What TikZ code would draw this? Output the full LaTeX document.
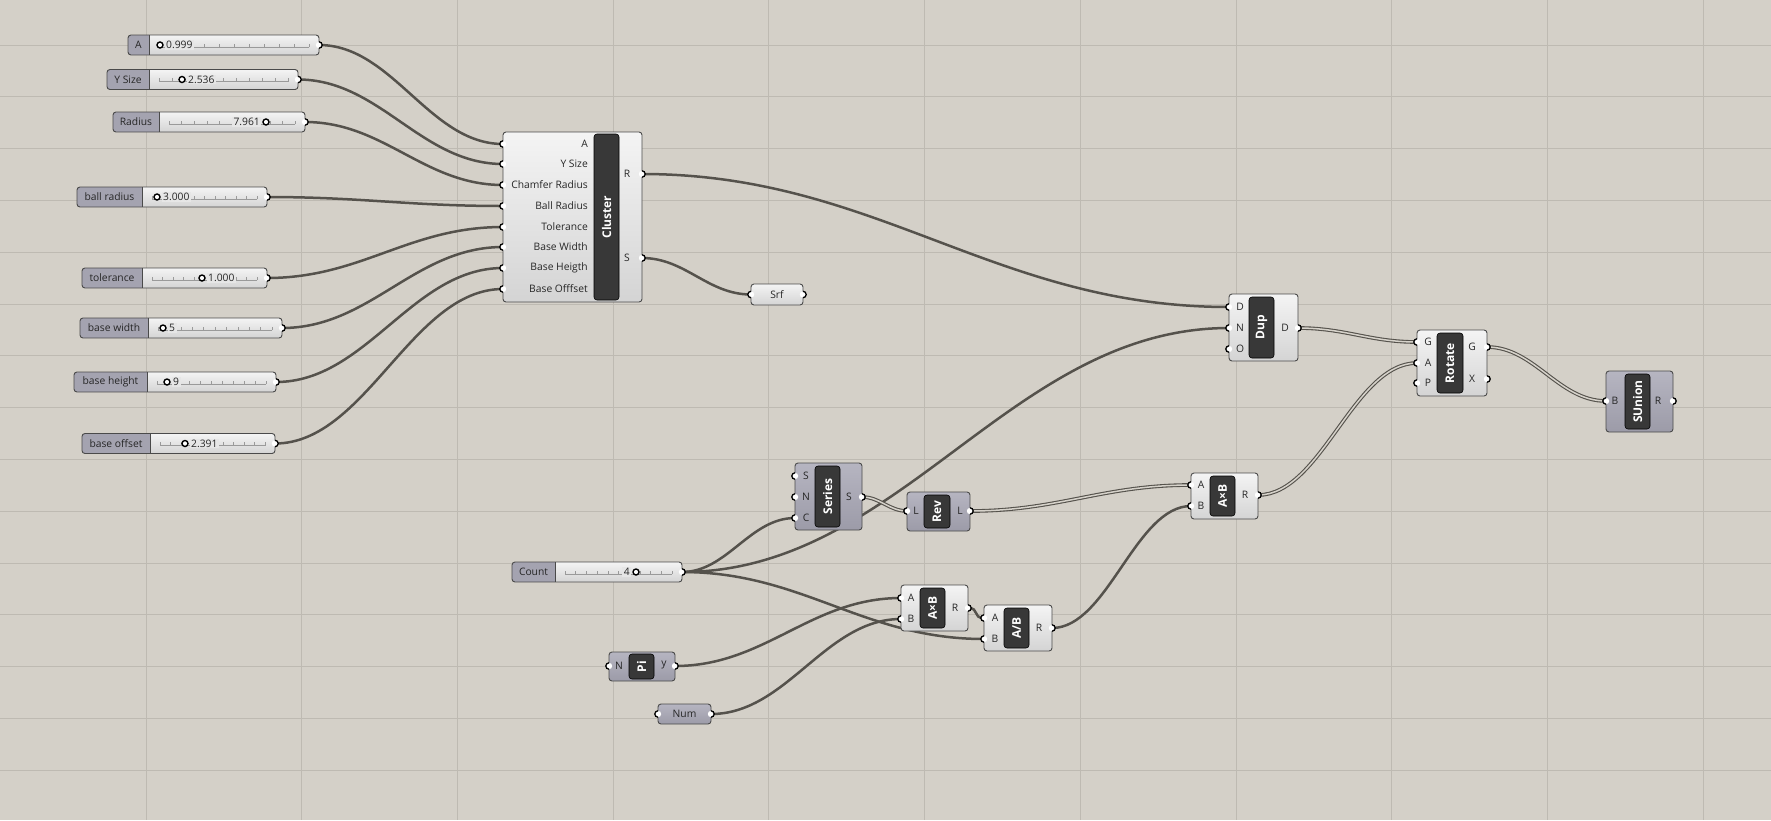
\documentclass[tikz,border=0pt]{standalone}
\usepackage{fontspec}
\setmainfont{Open Sans}
\usetikzlibrary{calc}
\definecolor{canvas}{HTML}{D4D0C8}
\definecolor{gridc}{HTML}{BEBAB2}
\definecolor{wirec}{HTML}{55524C}
\definecolor{wirein}{HTML}{D6D2CA}
\definecolor{lighttop}{HTML}{F4F4F4}
\definecolor{lightbot}{HTML}{D4D4D4}
\definecolor{purtop}{HTML}{B6B5C1}
\definecolor{purbot}{HTML}{9C9BA8}
\definecolor{purlab}{HTML}{A4A3B0}
\definecolor{sfill}{HTML}{E6E6E6}
\definecolor{barc}{HTML}{383838}
\definecolor{edgec}{HTML}{4A4A4A}
\definecolor{tickc}{HTML}{9A9A9A}
\tikzset{
 comp/.style={draw=edgec, line width=0.9pt, rounded corners=3pt, top color=lighttop, bottom color=lightbot},
 pcomp/.style={draw=edgec, line width=0.9pt, rounded corners=3pt, top color=purtop, bottom color=purbot},
 bar/.style={fill=barc, draw=black, line width=0.6pt, rounded corners=3pt},
 bartext/.style={text=white, font=\fontsize{12}{12}\selectfont\bfseries, rotate=90, inner sep=0pt},
 plab/.style={font=\fontsize{10.3}{12}\selectfont, text=black!85, inner sep=0pt},
 wire/.style={draw=wirec, line width=2.5pt},
 dwire/.style={draw=wirec, line width=1.1pt, double=wirein, double distance=1.5pt},
 tick/.style={draw=tickc, line width=0.6pt},
 vr/.style={anchor=west, xshift=4.5pt},
 vl/.style={anchor=east, xshift=-4.5pt},
}
\newcommand\ghwire[3][wire]{\draw[#1] let \p1=(#2), \p2=(#3), \n1={max(0.4*(\x2-\x1),12pt)} in (#2) .. controls +(\n1,0) and +(-\n1,0) .. (#3);}
\newcommand\ghbar[6]{\draw[bar] (#2,#3) rectangle (#4,#5); \node[bartext] (#1) at ({(#2+#4)/2},{(#3+#5)/2}) {#6};}
% name xL xLab xR yc label handleX value side
\newcommand\ghslider[9]{%
 \begin{scope}
 \clip[rounded corners=3pt] (#2,#5-10) rectangle (#4,#5+10);
 \fill[top color=lighttop, bottom color=lightbot] (#2,#5-10) rectangle (#4,#5+10);
 \fill[purlab] (#2,#5-10) rectangle (#3,#5+10);
 \end{scope}
 \draw[edgec, line width=0.9pt] (#3,#5-10) -- (#3,#5+10);
 \draw[edgec, line width=0.9pt, rounded corners=3pt] (#2,#5-10) rectangle (#4,#5+10);
 \node[plab] (#1-lab) at ({(#2+#3)/2},#5) {#6};
 \draw[tick] (#3+10,#5+2) -- (#4-10,#5+2);
 \foreach \i in {0,...,10} \draw[tick] ({#3+10+\i*(#4-#3-20)/10},#5+2) -- ++(0,-3.5);
 \node[plab, fill=sfill, inner xsep=1.5pt, inner ysep=1pt, #9] (#1-val) at (#7,#5) {#8};
 \draw[black, fill=white, line width=1.4pt] (#7,#5) circle (3);
}
\begin{document}
\begin{tikzpicture}[x=1pt,y=-1pt,font=\fontsize{10.3}{12}\selectfont]
\fill[canvas] (0,0) rectangle (1771,820);
\useasboundingbox (0,0) rectangle (1771,820);
\foreach \k in {0,...,10} \draw[gridc, line width=0.7pt] ({146+155.7*\k},0) -- ({146+155.7*\k},820);
\foreach \k in {0,...,14} \draw[gridc, line width=0.7pt] (0,{45+51.8*\k}) -- (1771,{45+51.8*\k});

% ---- port coordinates
\coordinate (sA-o) at (319,45);
\coordinate (sY-o) at (298,79.5);
\coordinate (sR-o) at (305,122);
\coordinate (sB-o) at (267,197);
\coordinate (sT-o) at (267,278);
\coordinate (sW-o) at (282,328);
\coordinate (sH-o) at (276,382);
\coordinate (sO-o) at (275,443.5);
\coordinate (sC-o) at (682,572);
\coordinate (cA) at (503,144);
\coordinate (cY) at (503,164);
\coordinate (cC) at (503,185);
\coordinate (cB) at (503,206);
\coordinate (cT) at (503,227);
\coordinate (cW) at (503,247);
\coordinate (cH) at (503,268);
\coordinate (cO) at (503,289);
\coordinate (cR) at (642,174);
\coordinate (cS) at (642,258);
\coordinate (srf-i) at (751,294.5);
\coordinate (srf-o) at (803,294.5);
\coordinate (dD) at (1229,307);
\coordinate (dN) at (1229,328);
\coordinate (dO) at (1229,349);
\coordinate (dOut) at (1298,328);
\coordinate (rG) at (1417,342);
\coordinate (rA) at (1417,363);
\coordinate (rP) at (1417,383);
\coordinate (rGo) at (1487,347);
\coordinate (rX) at (1487,379);
\coordinate (uB) at (1606,401);
\coordinate (uR) at (1673,401);
\coordinate (seS) at (795,476);
\coordinate (seN) at (795,497);
\coordinate (seC) at (795,518);
\coordinate (seO) at (862,497);
\coordinate (rvI) at (907,511);
\coordinate (rvO) at (970,511);
\coordinate (m1A) at (1191,485);
\coordinate (m1B) at (1191,506);
\coordinate (m1R) at (1258,495);
\coordinate (m2A) at (901,598);
\coordinate (m2B) at (901,619);
\coordinate (m2R) at (968,608);
\coordinate (dvA) at (984,618);
\coordinate (dvB) at (984,639);
\coordinate (dvR) at (1052,628);
\coordinate (piN) at (609,666);
\coordinate (piY) at (675,666);
\coordinate (nmI) at (658,714);
\coordinate (nmO) at (711,714);

% ---- wires
\ghwire{sA-o}{cA}
\ghwire{sY-o}{cY}
\ghwire{sR-o}{cC}
\ghwire{sB-o}{cB}
\ghwire{sT-o}{cT}
\ghwire{sW-o}{cW}
\ghwire{sH-o}{cH}
\ghwire{sO-o}{cO}
\ghwire{cR}{dD}
\ghwire{cS}{srf-i}
\ghwire{sC-o}{dN}
\ghwire{sC-o}{seC}
\ghwire{sC-o}{dvB}
\ghwire[dwire]{seO}{rvI}
\ghwire[dwire]{rvO}{m1A}
\ghwire{piY}{m2A}
\ghwire{nmO}{m2B}
\ghwire{m2R}{dvA}
\ghwire{dvR}{m1B}
\ghwire[dwire]{m1R}{rA}
\ghwire[dwire]{dOut}{rG}
\ghwire[dwire]{rGo}{uB}

% ---- sliders
\ghslider{sA}{128}{149}{319}{45}{A}{160}{0.999}{vr}
\ghslider{sY}{107}{149}{298}{79.5}{Y Size}{182}{2.536}{vr}
\ghslider{sR}{113}{159}{305}{122}{Radius}{266}{7.961}{vl}
\ghslider{sB}{77}{142}{267}{197}{ball radius}{157}{3.000}{vr}
\ghslider{sT}{82}{142}{267}{278}{tolerance}{202}{1.000}{vr}
\ghslider{sW}{80}{148}{282}{328}{base width}{163}{5}{vr}
\ghslider{sH}{74}{147}{276}{382}{base height}{167}{9}{vr}
\ghslider{sO}{82}{150}{275}{443.5}{base offset}{185}{2.391}{vr}
\ghslider{sC}{512}{555}{682}{572}{Count}{636}{4}{vl}

% ---- Cluster
\draw[comp] (503,132) rectangle (642,302);
\ghbar{cl-bar}{594}{134}{619}{300}{Cluster}
\node[plab, anchor=east] (cl-lA) at (588,144) {A};
\node[plab, anchor=east] (cl-lY) at (588,164) {Y Size};
\node[plab, anchor=east] (cl-lC) at (588,185) {Chamfer Radius};
\node[plab, anchor=east] (cl-lB) at (588,206) {Ball Radius};
\node[plab, anchor=east] (cl-lT) at (588,227) {Tolerance};
\node[plab, anchor=east] (cl-lW) at (588,247) {Base Width};
\node[plab, anchor=east] (cl-lH) at (588,268) {Base Heigth};
\node[plab, anchor=east] (cl-lO) at (588,289) {Base Offfset};
\node[plab] (cl-lR) at (627,174) {R};
\node[plab] (cl-lS) at (627,258) {S};

% ---- Srf
\draw[comp] (751,284) rectangle (803,305);
\node[plab] (srf) at (777,294.5) {Srf};

% ---- Dup
\draw[comp] (1229,294) rectangle (1298,361);
\ghbar{dup-bar}{1249}{297}{1274}{358}{Dup}
\node[plab] (dup-lD) at (1240,307) {D};
\node[plab] (dup-lN) at (1240,328) {N};
\node[plab] (dup-lO) at (1240,349) {O};
\node[plab] (dup-lDo) at (1285,328) {D};

% ---- Rotate
\draw[comp] (1417,330) rectangle (1487,396);
\ghbar{rot-bar}{1437}{333}{1463}{393}{Rotate}
\node[plab] (rot-lG) at (1428,342) {G};
\node[plab] (rot-lA) at (1428,363) {A};
\node[plab] (rot-lP) at (1428,383) {P};
\node[plab] (rot-lGo) at (1472,347) {G};
\node[plab] (rot-lX) at (1472,379) {X};

% ---- SUnion
\draw[pcomp] (1606,371) rectangle (1673,432);
\ghbar{su-bar}{1625}{374}{1650}{429}{SUnion}
\node[plab] (su-lB) at (1615,401) {B};
\node[plab] (su-lR) at (1658,401) {R};

% ---- Series
\draw[pcomp] (795,463) rectangle (862,530);
\ghbar{se-bar}{815}{466}{840}{527}{Series}
\node[plab] (se-lS) at (806,476) {S};
\node[plab] (se-lN) at (806,497) {N};
\node[plab] (se-lC) at (806,518) {C};
\node[plab] (se-lSo) at (849,497) {S};

% ---- Rev
\draw[pcomp] (907,492) rectangle (970,531);
\ghbar{rv-bar}{924}{495}{950}{528}{Rev}
\node[plab] (rv-lI) at (916,511) {L};
\node[plab] (rv-lO) at (960,511) {L};

% ---- A x B (upper)
\draw[comp] (1191,473) rectangle (1258,519);
\ghbar{m1-bar}{1210}{476}{1235}{516}{A×B}
\node[plab] (m1-lA) at (1201,485) {A};
\node[plab] (m1-lB) at (1201,506) {B};
\node[plab] (m1-lR) at (1245,495) {R};

% ---- A x B (lower)
\draw[comp] (901,585) rectangle (968,631);
\ghbar{m2-bar}{920}{588}{945}{628}{A×B}
\node[plab] (m2-lA) at (911,598) {A};
\node[plab] (m2-lB) at (911,619) {B};
\node[plab] (m2-lR) at (955,608) {R};

% ---- A/B
\draw[comp] (984,605) rectangle (1052,651);
\ghbar{dv-bar}{1004}{608}{1029}{648}{A/B}
\node[plab] (dv-lA) at (995,618) {A};
\node[plab] (dv-lB) at (995,639) {B};
\node[plab] (dv-lR) at (1039,628) {R};

% ---- Pi
\draw[pcomp] (609,652) rectangle (675,681);
\ghbar{pi-bar}{629}{654}{654}{679}{Pi}
\node[plab] (pi-lN) at (619,666) {N};
\node[plab] (pi-lY) at (664,665) {y};

% ---- Num
\draw[pcomp] (658,704) rectangle (711,724);
\node[plab] (num) at (684.5,714) {Num};

% ---- ports
\foreach \p in {cA,cY,cC,cB,cT,cW,cH,cO,srf-i,dD,dN,dO,rG,rA,rP,uB,seS,seN,seC,rvI,m1A,m1B,m2A,m2B,dvA,dvB,piN,nmI}{
 \fill[white] (\p) circle (3.2);
 \draw[black, line width=1.3pt] (\p) ++(0,3.2) arc[start angle=90, end angle=270, radius=3.2];
}
\foreach \p in {sA-o,sY-o,sR-o,sB-o,sT-o,sW-o,sH-o,sO-o,sC-o,cR,cS,srf-o,dOut,rGo,rX,uR,seO,rvO,m1R,m2R,dvR,piY,nmO}{
 \fill[white] (\p) circle (3.2);
 \draw[black, line width=1.3pt] (\p) ++(0,3.2) arc[start angle=90, end angle=-90, radius=3.2];
}
\end{tikzpicture}
\end{document}
